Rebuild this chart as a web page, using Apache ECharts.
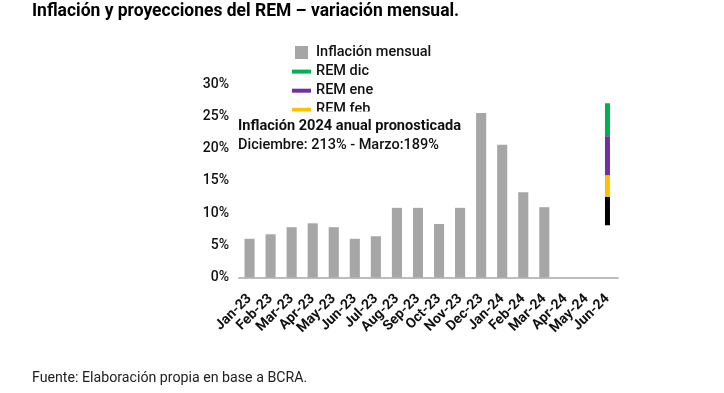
<!DOCTYPE html>
<html>
<head>
<meta charset="utf-8">
<script src="https://cdn.jsdelivr.net/npm/echarts@6/dist/echarts.min.js"></script>
<style>
html,body{margin:0;padding:0;background:#fff;}
#chart{width:724px;height:393px;}
</style>
</head>
<body>
<div id="chart"></div>
<script>
var categories = ['Jan-23','Feb-23','Mar-23','Apr-23','May-23','Jun-23','Jul-23','Aug-23','Sep-23','Oct-23','Nov-23','Dec-23','Jan-24','Feb-24','Mar-24','Apr-24','May-24','Jun-24'];
var inflacionMensual = [6.0, 6.7, 7.8, 8.4, 7.8, 6.0, 6.4, 10.8, 10.8, 8.3, 10.8, 25.5, 20.6, 13.2, 10.9, null, null, null];
var remDic = [21.9, 27.0];
var remEne = [15.8, 21.9];
var remFeb = [12.5, 15.8];
var remMar = [8.1, 12.5];
var remCategory = 'Jun-24';
var yTicks = [0, 5, 10, 15, 20, 25, 30];
var titleText = 'Inflación y proyecciones del REM – variación mensual.';
var noteLine1 = 'Inflación 2024 anual pronosticada';
var noteLine2 = 'Diciembre: 213% - Marzo:189%';
var sourceText = 'Fuente: Elaboración propia en base a BCRA.';

function seg(vals){ return vals.map(function(v){ return [remCategory, v]; }); }
var lineIcon = 'path://M0,0h19v4h-19z';
var sqIcon = 'path://M0,0h13v13h-13z';

var chart = echarts.init(document.getElementById('chart'), null, {renderer:'canvas'});
chart.setOption({
  animation:false,
  textStyle:{fontFamily:'Roboto'},
  grid:{left:239, right:106, top:84, bottom:115.5, containLabel:false},
  legend:{
    orient:'vertical', left:287, top:40, itemWidth:19, itemHeight:13, itemGap:4.1, z:2,
    textStyle:{fontSize:14.5, color:'#111', fontWeight:500, fontFamily:'Roboto'},
    data:[
      {name:'Inflación mensual', icon:sqIcon},
      {name:'REM dic', icon:lineIcon},
      {name:'REM ene', icon:lineIcon},
      {name:'REM feb', icon:lineIcon},
      {name:'REM mar', icon:lineIcon}
    ]
  },
  xAxis:{
    type:'category', data:categories,
    axisLine:{lineStyle:{color:'#BDBDBD', width:2}},
    axisTick:{show:false},
    axisLabel:{rotate:45, fontSize:14, color:'#111', fontWeight:'bold', margin:19, interval:0}
  },
  yAxis:{
    type:'value', min:yTicks[0], max:yTicks[yTicks.length-1], interval:5,
    splitLine:{show:false}, axisLine:{show:false}, axisTick:{show:false},
    axisLabel:{formatter:'{value}%', fontSize:14, color:'#111', fontWeight:500, margin:10}
  },
  series:[
    {name:'Inflación mensual', type:'bar', data:inflacionMensual, barWidth:'48%',
     itemStyle:{color:'#A6A6A6'}},
    {name:'REM dic', type:'line', data:seg(remDic), symbol:'none', lineStyle:{color:'#00B050', width:5}, itemStyle:{color:'#00B050'}},
    {name:'REM ene', type:'line', data:seg(remEne), symbol:'none', lineStyle:{color:'#7030A0', width:5}, itemStyle:{color:'#7030A0'}},
    {name:'REM feb', type:'line', data:seg(remFeb), symbol:'none', lineStyle:{color:'#FFC000', width:5}, itemStyle:{color:'#FFC000'}},
    {name:'REM mar', type:'line', data:seg(remMar), symbol:'none', lineStyle:{color:'#000000', width:5}, itemStyle:{color:'#000000'}}
  ],
  graphic:[
    {type:'text', left:32, top:2, z:100, scaleX:0.97, style:{text:titleText, fontFamily:'Roboto', fontWeight:'bold', fontSize:18, fill:'#000'}},
    {type:'rect', left:232, top:111.5, z:99, shape:{width:240, height:46}, style:{fill:'#fff'}},
    {type:'text', left:238, top:119, z:100, style:{text:noteLine1, fontFamily:'Roboto', fontWeight:'bold', fontSize:14.6, fill:'#111'}},
    {type:'text', left:238, top:138, z:100, style:{text:noteLine2, fontFamily:'Roboto', fontWeight:500, fontSize:14.5, fill:'#111'}},
    {type:'text', left:32, top:371, z:100, style:{text:sourceText, fontFamily:'Roboto', fontSize:14.2, fill:'#222'}}
  ]
});
</script>
</body>
</html>
